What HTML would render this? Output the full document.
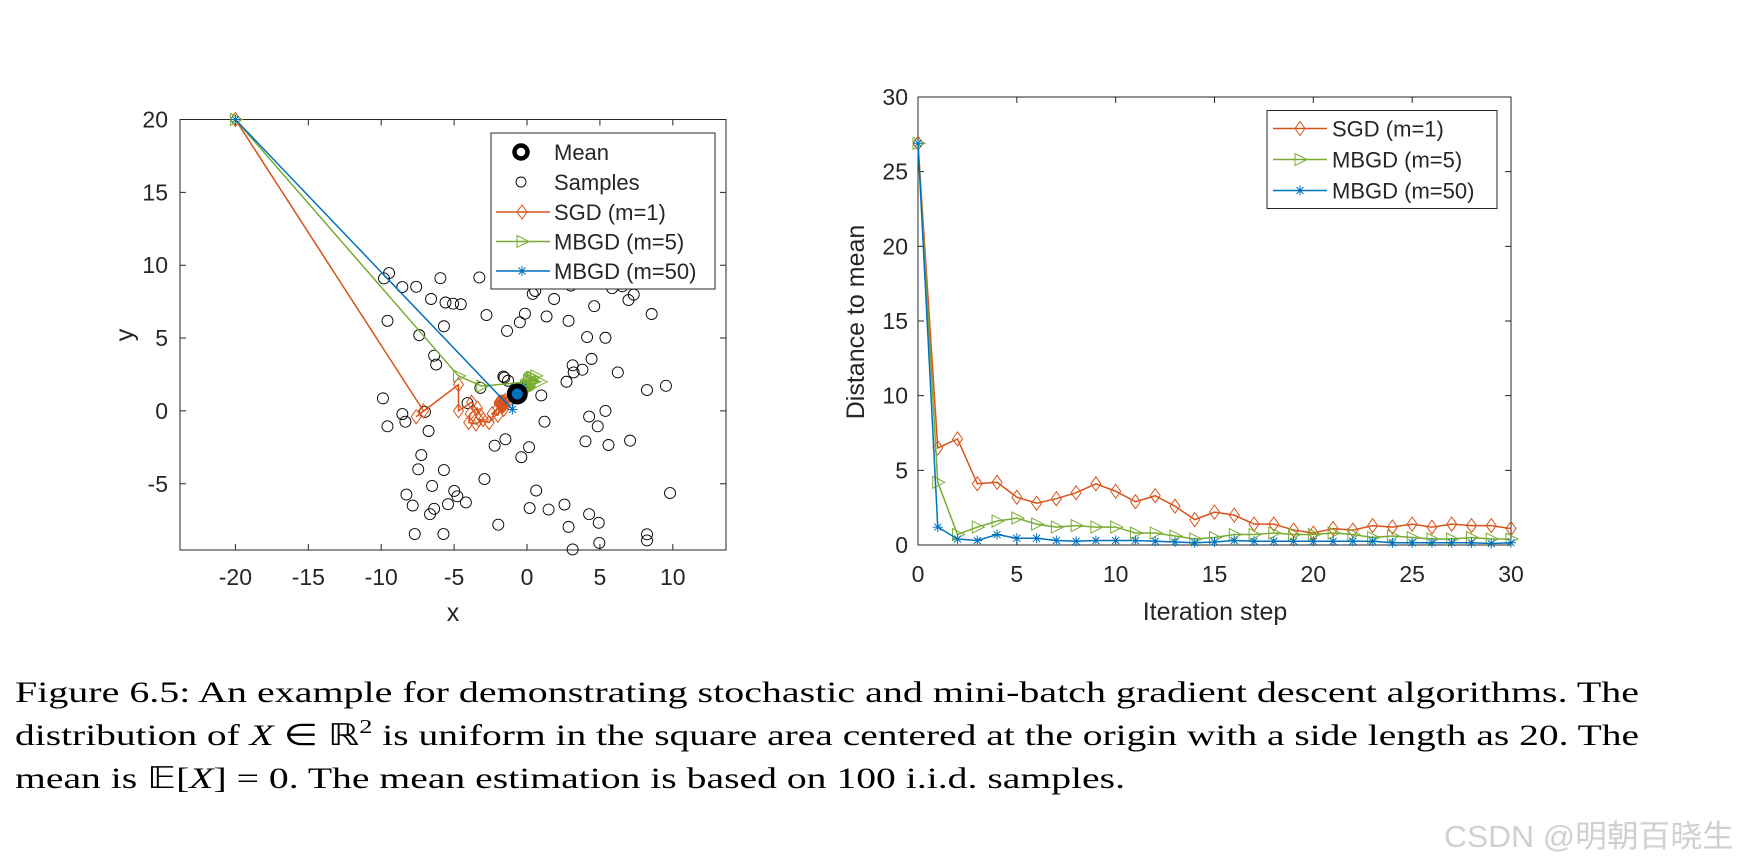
<!DOCTYPE html>
<html><head><meta charset="utf-8"><style>
html,body{margin:0;padding:0;background:#fff;width:1738px;height:863px;overflow:hidden}
svg{display:block}
text{font-family:"Liberation Sans",Arial,sans-serif;fill:#262626}
.cap{font-family:"Liberation Serif",serif;font-size:30px;fill:#000}
</style></head><body>
<svg id="fig" width="1738" height="863" viewBox="0 0 1738 863" xmlns="http://www.w3.org/2000/svg">
<g id="left"></g>
<g id="right"></g>
<text class="cap" x="15" y="702" textLength="1624" lengthAdjust="spacingAndGlyphs">Figure 6.5: An example for demonstrating stochastic and mini-batch gradient descent algorithms. The</text>
<text class="cap" x="15" y="745" textLength="1624" lengthAdjust="spacingAndGlyphs">distribution of <tspan font-style="italic">X</tspan> ∈ ℝ<tspan dy="-12" font-size="20">2</tspan><tspan dy="12"> is uniform in the square area centered at the origin with a side length as 20. The</tspan></text>
<text class="cap" x="15" y="788" textLength="1110" lengthAdjust="spacingAndGlyphs">mean is 𝔼[<tspan font-style="italic">X</tspan>] = 0. The mean estimation is based on 100 i.i.d. samples.</text>
<text x="1444" y="847" textLength="290" lengthAdjust="spacingAndGlyphs" style="font-family:'Liberation Sans','Noto Sans CJK SC',sans-serif;font-size:31px;fill:#d0d0d0">CSDN @明朝百晓生</text>
</svg>
<script>
const samplesX=[-9.81,-9.46,-5.94,-3.27,-8.55,-7.60,-6.58,-5.59,-5.07,-4.54,-9.57,-2.78,-5.70,-7.39,-1.37,-0.49,-0.14,0.39,0.56,1.86,1.34,2.85,4.61,5.84,6.54,4.61,6.96,7.32,8.55,4.12,5.38,4.43,3.13,3.20,3.80,2.71,6.23,8.23,9.53,-6.37,-6.23,-3.20,-1.55,-1.30,-9.88,0.98,-4.08,-8.55,-8.34,-9.57,-6.75,-7.00,1.20,4.26,5.38,4.85,4.01,5.59,7.07,-2.22,-1.48,0.14,-0.39,-7.25,-7.46,-5.70,-2.92,-6.51,-4.99,-4.78,-4.19,-5.42,-8.27,-7.84,-6.37,-6.65,0.63,0.18,1.48,2.57,-1.97,4.26,4.92,2.85,-7.70,-5.73,4.96,3.13,8.23,8.23,9.81,-1.62,2.2,3.0];
const samplesY=[9.09,9.46,9.11,9.16,8.50,8.52,7.68,7.44,7.36,7.32,6.18,6.58,5.81,5.20,5.49,6.08,6.67,8.03,8.23,7.68,6.48,6.18,7.19,8.42,8.55,8.74,7.61,7.98,6.65,5.07,5.02,3.57,3.13,2.64,2.83,2.00,2.64,1.43,1.72,3.79,3.18,1.58,2.29,2.07,0.86,1.06,0.54,-0.22,-0.74,-1.06,-1.38,-0.07,-0.74,-0.39,0,-1.06,-2.09,-2.34,-2.04,-2.39,-1.95,-2.49,-3.18,-3.03,-4.01,-4.06,-4.68,-5.15,-5.49,-5.86,-6.28,-6.40,-5.74,-6.50,-6.72,-7.09,-5.47,-6.67,-6.77,-6.43,-7.81,-7.09,-7.68,-7.96,-8.45,-8.45,-9.06,-9.51,-8.47,-8.89,-5.64,2.36,9.0,8.6];
const meanXY=[-0.67,1.16];
const sgdX=[-20,-7.1,-7.6,-4.7,-4.7,-3.8,-3.2,-3.4,-3.9,-4.0,-3.5,-3.0,-3.3,-2.6,-2.0,-2.4,-2.0,-1.8,-1.6,-1.5,-1.3,-1.6,-1.5,-1.7,-1.7,-1.9,-1.6,-1.9,-1.7,-1.8,-1.6];
const sgdY=[20,0.0,-0.4,1.8,0.0,0.6,-0.3,0.2,-0.2,-0.8,-0.9,-0.6,-0.6,-0.8,0.2,-0.2,-0.3,0.4,0.1,0.5,0.6,0.6,0.7,0.3,0.6,0.5,0.4,0.6,0.4,0.6,0.6];
const m5X=[-20,-4.7,-3.1,0.2,0.4,0.6,0.3,0.1,0.3,0.2,0.9,-0.1,0.0,-0.1,-0.3,-0.2,0.0,0.0,0.1,0.0,-0.1,0.0,0.0,-0.2,-0.1,-0.2,-0.3,-0.2,-0.3,-0.2,-0.3];
const m5Y=[20,2.4,1.7,2.0,2.3,2.4,2.3,2.1,2.1,2.2,2.0,1.6,1.8,1.6,1.4,1.5,1.7,1.5,1.6,1.6,1.7,1.7,1.5,1.5,1.5,1.4,1.4,1.5,1.4,1.4,1.4];
const m50X=[-20,-1.0,-0.9,-0.8,-0.3,-0.5,-0.9,-0.7,-0.6,-0.8,-0.5,-0.7,-0.6,-0.6,-0.7,-0.6,-0.8,-0.6,-0.7,-0.6,-0.7,-0.6,-0.7,-0.6,-0.7,-0.7,-0.6,-0.7,-0.6,-0.7,-0.6];
const m50Y=[20,0.1,1.0,1.4,1.6,1.4,1.2,1.3,1.1,1.2,1.3,1.0,1.2,1.1,1.2,1.1,1.3,1.1,1.2,1.0,1.2,1.1,1.3,1.2,1.1,1.2,1.2,1.1,1.2,1.2,1.1];
const xTicksL=[-20,-15,-10,-5,0,5,10];
const yTicksL=[-5,0,5,10,15,20];
const steps=[0,1,2,3,4,5,6,7,8,9,10,11,12,13,14,15,16,17,18,19,20,21,22,23,24,25,26,27,28,29,30];
const sgdDist=[26.9,6.5,7.1,4.1,4.2,3.2,2.8,3.1,3.5,4.1,3.6,2.9,3.3,2.6,1.7,2.2,2.0,1.4,1.4,1.0,0.8,1.1,1.0,1.3,1.2,1.4,1.2,1.4,1.3,1.3,1.1];
const m5Dist=[26.9,4.2,0.7,1.2,1.6,1.8,1.4,1.2,1.3,1.2,1.2,0.8,0.8,0.6,0.4,0.5,0.7,0.7,0.8,0.7,0.7,0.8,0.7,0.5,0.6,0.5,0.4,0.4,0.5,0.4,0.4];
const m50Dist=[26.9,1.2,0.4,0.3,0.7,0.45,0.45,0.3,0.25,0.3,0.3,0.3,0.25,0.2,0.15,0.2,0.3,0.25,0.25,0.25,0.25,0.25,0.25,0.25,0.15,0.15,0.15,0.15,0.15,0.1,0.15];
const xTicksR=[0,5,10,15,20,25,30];
const yTicksR=[0,5,10,15,20,25,30];

const NS='http://www.w3.org/2000/svg';
const RED='#D95319',GRN='#77AC30',BLU='#0072BD';
function mk(p,t,a){const e=document.createElementNS(NS,t);for(const k in a)e.setAttribute(k,a[k]);p.appendChild(e);return e;}
function marker(g,type,x,y,c){
  let e;
  if(type==='d'){e=mk(g,'path',{d:`M${x} ${y-7}L${x+5} ${y}L${x} ${y+7}L${x-5} ${y}Z`,fill:'none',stroke:c,'stroke-width':1});}
  else if(type==='t'){e=mk(g,'path',{d:`M${x-5} ${y-6}L${x+7} ${y}L${x-5} ${y+6}Z`,fill:'none',stroke:c,'stroke-width':1});}
  else {e=mk(g,'path',{d:`M${x-5} ${y}H${x+5}M${x} ${y-5}V${y+5}M${x-3.5} ${y-3.5}L${x+3.5} ${y+3.5}M${x-3.5} ${y+3.5}L${x+3.5} ${y-3.5}`,fill:'none',stroke:c,'stroke-width':1});}
  
  
}
function axesBox(g,L,T,R,B,name){
  const e=mk(g,'rect',{x:L,y:T,width:R-L,height:B-T,fill:'#fff',stroke:'#262626','stroke-width':1});
  
  
}
function legend(g,x,y,w,h){
  const b=mk(g,'rect',{x:x,y:y,width:w,height:h,fill:'#fff',stroke:'#262626','stroke-width':1});
  
  
}

// LEFT
(function(){
  const g=document.getElementById('left');
  const L=180,R=726,T=119.5,B=550;
  const sx=v=>L+(v+23.8)*14.58, sy=v=>T+(20-v)*14.57;
  axesBox(g,L,T,R,B,'scatter-axes');
  xTicksL.forEach(v=>{const x=sx(v);
    mk(g,'path',{d:`M${x} ${B}v-6M${x} ${T}v6`,stroke:'#262626'});
    const t=mk(g,'text',{x:x,y:585,'text-anchor':'middle','font-size':23});t.textContent=v;
    
    });
  yTicksL.forEach(v=>{const y=sy(v);
    mk(g,'path',{d:`M${L} ${y}h6M${R} ${y}h-6`,stroke:'#262626'});
    const t=mk(g,'text',{x:L-12,y:y+8,'text-anchor':'end','font-size':23});t.textContent=v;
    
    });
  let t=mk(g,'text',{x:453,y:621,'text-anchor':'middle','font-size':25});t.textContent='x';
  
  
  t=mk(g,'text',{x:0,y:0,'text-anchor':'middle','font-size':25,transform:'translate(133,335) rotate(-90)'});t.textContent='y';
  
  
  samplesX.forEach((v,i)=>{const c=mk(g,'circle',{cx:sx(v),cy:sy(samplesY[i]),r:5.5,fill:'none',stroke:'#000','stroke-width':0.9});
    
    });
  const series=[[sgdX,sgdY,RED,'d','sgd-path'],[m5X,m5Y,GRN,'t','mbgd5-path'],[m50X,m50Y,BLU,'s','mbgd50-path']];
  series.forEach(([X,Y,c,m,n])=>{
    const p=mk(g,'polyline',{points:X.map((v,i)=>sx(v)+','+sy(Y[i])).join(' '),fill:'none',stroke:c,'stroke-width':1.5});
    
    
    X.forEach((v,i)=>marker(g,m,sx(v),sy(Y[i]),c));
  });
  const mc=mk(g,'circle',{cx:sx(meanXY[0]),cy:sy(meanXY[1]),r:8,fill:BLU,stroke:'#000','stroke-width':5});
  
  
  legend(g,491,133,224,156);
  const rows=['Mean','Samples','SGD (m=1)','MBGD (m=5)','MBGD (m=50)'],ry=[152,182,212,241.5,271];
  rows.forEach((s,i)=>{
    const te=mk(g,'text',{x:554,y:ry[i]+8,'font-size':22,fill:'#000'});te.textContent=s;
    
    
  });
  mk(g,'circle',{cx:521,cy:152,r:6.5,fill:'none',stroke:'#000','stroke-width':4.5});
  mk(g,'circle',{cx:521,cy:182,r:5,fill:'none',stroke:'#000','stroke-width':0.9});
  [[RED,'d'],[GRN,'t'],[BLU,'s']].forEach(([c,m],i)=>{
    mk(g,'path',{d:`M496 ${ry[i+2]}H550`,stroke:c,'stroke-width':1.5});
    marker(g,m,522,ry[i+2],c);
  });
})();

// RIGHT
(function(){
  const g=document.getElementById('right');
  const L=918,R=1511,T=97,B=545;
  const sx=v=>L+v*(R-L)/30, sy=v=>B-v*(B-T)/30;
  axesBox(g,L,T,R,B,'distance-axes');
  xTicksR.forEach(v=>{const x=sx(v);
    mk(g,'path',{d:`M${x} ${B}v-6M${x} ${T}v6`,stroke:'#262626'});
    const t=mk(g,'text',{x:x,y:582,'text-anchor':'middle','font-size':23});t.textContent=v;
    
    });
  yTicksR.forEach(v=>{const y=sy(v);
    mk(g,'path',{d:`M${L} ${y}h6M${R} ${y}h-6`,stroke:'#262626'});
    const t=mk(g,'text',{x:L-10,y:y+8,'text-anchor':'end','font-size':23});t.textContent=v;
    
    });
  let t=mk(g,'text',{x:1215,y:620,'text-anchor':'middle','font-size':25});t.textContent='Iteration step';
  
  
  t=mk(g,'text',{x:0,y:0,'text-anchor':'middle','font-size':25,transform:'translate(864,322) rotate(-90)'});t.textContent='Distance to mean';
  
  
  const series=[[sgdDist,RED,'d','sgd-line'],[m5Dist,GRN,'t','mbgd5-line'],[m50Dist,BLU,'s','mbgd50-line']];
  series.forEach(([D,c,m,n])=>{
    const p=mk(g,'polyline',{points:steps.map((s,i)=>sx(s)+','+sy(D[i])).join(' '),fill:'none',stroke:c,'stroke-width':1.5});
    
    
    steps.forEach((s,i)=>marker(g,m,sx(s),sy(D[i]),c));
  });
  legend(g,1267,110.5,230,98);
  const rows=['SGD (m=1)','MBGD (m=5)','MBGD (m=50)'],ry=[128.5,159.5,190.5];
  [[RED,'d'],[GRN,'t'],[BLU,'s']].forEach(([c,m],i)=>{
    mk(g,'path',{d:`M1273 ${ry[i]}H1327`,stroke:c,'stroke-width':1.5});
    marker(g,m,1300,ry[i],c);
    const te=mk(g,'text',{x:1332,y:ry[i]+8,'font-size':22,fill:'#000'});te.textContent=rows[i];
    
    
  });
})();
</script>
</body></html>
